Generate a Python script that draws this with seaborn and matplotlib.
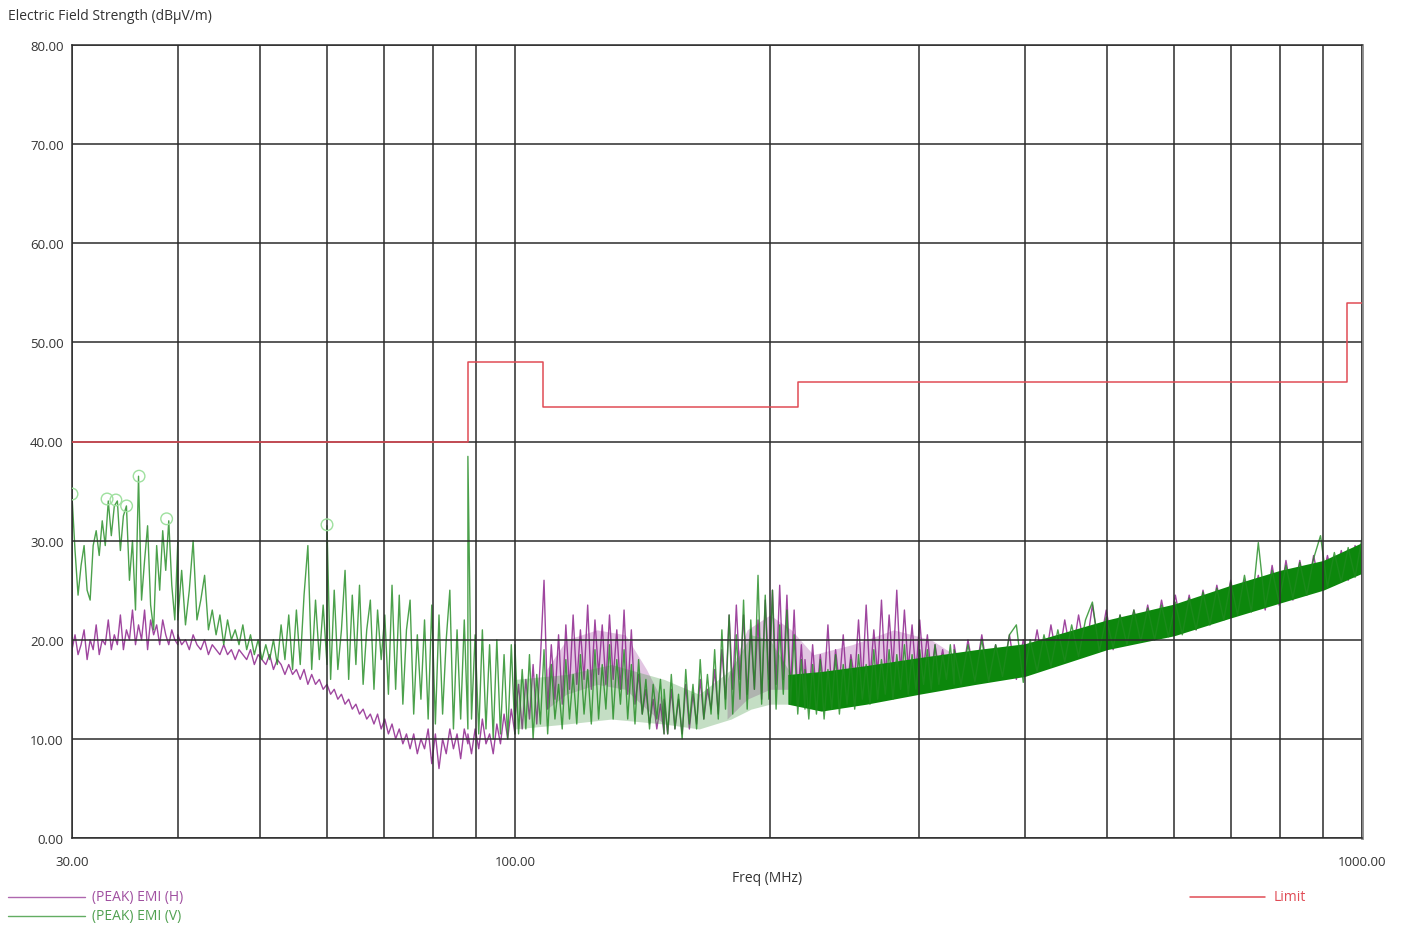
import numpy as np
import pandas as pd
import seaborn as sns
import matplotlib
matplotlib.use("Agg")
import matplotlib.pyplot as plt
from matplotlib.lines import Line2D
from matplotlib.ticker import FixedLocator, FixedFormatter, NullLocator

# ---------------- data ----------------
SEG_EDGES = [30, 40, 60, 88, 100, 150, 220, 330, 1000]  # MHz, segment bounds of readings

# Vertical polarisation (green) readings, dBuV/m
V_30_40 = [34.5, 29, 24.5, 27.5, 29.5, 25, 24, 29.5, 31, 28.5, 32, 29.5, 34, 30.5, 33.5, 34,
           29, 32.5, 33.5, 26, 30, 23, 36.5, 24, 28, 31.5, 23.5, 21, 29.5, 25, 31, 27, 32, 25.5, 22, 30]
V_40_60 = [22, 27, 21.5, 25, 30, 22, 24, 26.5, 21, 23, 20.5, 22.5, 19.5, 22, 20, 21, 19.5, 21.5, 19, 20.5,
           18.5, 20, 18, 19.5, 18, 20, 17.5, 21.5, 18, 22.5, 17, 23, 17.5, 24.5, 29.5, 17, 24, 18, 23.5, 17.5]
V_60_88 = [31.5, 16, 25, 17, 21, 27, 16, 24.5, 17.5, 25.5, 15.5, 21, 24, 15, 23, 18, 22.5, 14.5, 25.5, 15,
           24.5, 13.5, 21, 24, 12.5, 20.5, 14, 22, 12, 23.5, 11.5, 22.5, 12.5, 20, 25, 11, 21, 12, 22, 11]
V_88_100 = [38.5, 12, 20.5, 10.5, 21, 11, 19.5, 10, 20, 10.5, 18.5, 10, 19.5, 10.5]
V_100_150 = [19.5, 10.5, 17, 11, 18.5, 10, 16.5, 11.5, 19, 10.5, 17.5, 12, 15.5, 11, 18, 12, 16.5, 11.5,
             18.5, 12.5, 17, 11.5, 19, 12, 17.5, 13, 19.5, 12, 18, 13.5, 19, 12, 17.5, 11.5, 18, 12.5,
             16, 11, 15.5, 12, 16, 10.5]
V_150_220 = [15, 10.5, 16.5, 11, 14.5, 10, 17, 11.5, 15.5, 11, 18, 12, 16.5, 12.5, 19, 12, 21, 13, 22.5,
             12.5, 20.5, 14, 24, 13, 22, 15, 26.5, 13.5, 24.5, 14, 25, 13, 21.5, 14.5, 23, 13.5, 20.5,
             12.5, 18, 13]
V_220_330 = [17, 12, 17.5, 12.5, 18, 12, 17, 13, 18.5, 12.5, 17.5, 13.5, 18, 13, 18.5, 14, 17.5, 13.5,
             19, 14, 18, 14.5, 19, 14, 18.5, 15, 19.5, 14.5, 18.5, 15, 19, 15.5, 19, 15, 19.5, 15.5,
             18.5, 16, 19.5, 15.5]
V_330_1000 = [19, 15.5, 19.5, 15.8, 20, 15.8, 19.5, 16.3, 20.5, 21.5, 15.7, 20, 16.8, 20.5, 17.3, 21,
              17.8, 21.5, 18.3, 22, 23.8, 18.8, 22.3, 19.2, 22.5, 19.5, 23, 19.8, 23.2, 20, 23.5, 20.3,
              23.8, 20.5, 24.2, 21, 24.8, 21.5, 25.2, 22, 25.8, 22.5, 26.5, 22.8, 29.8, 23.3, 27, 23.8,
              27.5, 24.2, 27.8, 24.5, 28.2, 30.5, 25.3, 28.8, 25.8, 29.3, 26.3, 30.3]

# Horizontal polarisation (purple) readings, dBuV/m
H_30_40 = [19, 20.5, 18.5, 19.5, 21, 18, 20, 19, 21.5, 18.5, 20, 19.5, 22, 19, 20.5, 19.5, 22.5, 19,
           21, 20, 23, 19.5, 21.5, 20, 23, 19, 22, 20.5, 21.5, 19.5, 22, 20.5, 19.5, 21, 20, 19.5]
H_40_60 = [20.5, 19.5, 20, 19, 20.5, 19.5, 19, 20, 18.5, 19.5, 19, 18.5, 19.5, 18.5, 19, 18, 19, 18.5,
           18, 19, 17.5, 18.5, 18, 17.5, 18.5, 17, 18, 17.5, 16.5, 17.5, 16.5, 17, 16, 17, 15.5, 16.5,
           15.5, 16, 15, 15.5]
H_60_88 = [15.5, 14.5, 15, 14, 14.5, 13.5, 14, 13, 13.5, 12.5, 13, 12, 12.5, 11.5, 12.5, 11, 12, 10.5,
           11.5, 10, 11, 9.5, 10.5, 9, 10.5, 8.5, 10, 9, 11, 7.5, 10.5, 7, 10, 8.5, 11, 9, 10.5, 8, 11, 9.5]
H_88_100 = [10.5, 8.5, 11, 9, 12, 9.5, 10.5, 8.5, 11.5, 9.5, 12.5, 10, 13, 10.5]
H_100_150 = [12, 15.5, 11, 16, 12, 17.5, 11.5, 18, 26, 13, 19.5, 14, 20.5, 13.5, 21.5, 15, 22.5, 15.5,
             21, 16, 23.5, 15, 22, 16.5, 21.5, 15.5, 22.5, 16, 21, 15, 23, 14.5, 21, 13.5, 16.5, 12.5,
             15, 11.5, 14, 11, 13.5, 10.5]
H_150_220 = [14, 10.5, 15, 11, 14, 10.5, 15.5, 11, 14.5, 11.5, 16, 12, 15, 13, 17, 12.5, 19, 14, 22.5,
             15, 23.5, 16, 22.5, 14.5, 21, 15, 22, 14, 24, 16, 25, 15.5, 25.5, 16, 24.5, 15, 23, 14,
             19.5, 13.5]
H_220_330 = [18, 13.5, 19.5, 14, 18.5, 15, 21.5, 14.5, 19, 15.5, 20.5, 15, 18.5, 16, 22, 15.5, 23.5, 16,
             21, 16.5, 24, 16, 22.5, 17, 25, 16.5, 23, 17, 21.5, 16.5, 22, 17, 20.5, 16.5, 19.5, 17,
             19, 16.5, 18.5, 16]
H_330_1000 = [19.5, 15.5, 20, 16, 20.5, 16, 19.5, 16.5, 20.5, 16, 20, 17, 21, 17, 21.5, 17.5, 22, 18,
              22.5, 18.5, 23.5, 19, 23, 19, 22.5, 19.5, 23, 20, 23.5, 20, 24, 20.5, 24.5, 21, 24.5, 21,
              25, 21.5, 25.5, 22, 26, 22.5, 26, 23, 26.5, 23, 27.5, 23.5, 28, 24, 28, 24.5, 28.5, 25,
              28.5, 25.5, 29, 26, 29.5, 27]

# Dense green noise band (solid envelope) above ~210 MHz
BAND_F = [210, 230, 260, 300, 350, 400, 500, 600, 700, 800, 900, 1000]
BAND_HI = [16.5, 16.8, 17.4, 18.2, 19, 19.6, 22, 23.6, 25.5, 27, 28, 29.8]
BAND_LO = [13.5, 12.8, 13.5, 14.5, 15.5, 16.3, 19, 20.4, 22.2, 23.7, 25, 26.7]

# Hazy cores of dense noise (lighter)
GHAZE_F = [100, 115, 130, 150, 165, 180, 190, 200, 212]
GHAZE_HI = [16, 16.5, 17.5, 16, 14.5, 17, 20.5, 20, 16.5]
GHAZE_LO = [11, 11.5, 12, 11.5, 11, 12, 13, 13.5, 13.5]
PHAZE1_F = [109, 115, 125, 135, 143, 150]
PHAZE1_HI = [17, 20, 21, 20.5, 17, 13.5]
PHAZE1_LO = [13, 14.5, 15.5, 15, 13, 11.5]
PHAZE2_F = [178, 188, 200, 212, 225, 250, 280, 310, 330]
PHAZE2_HI = [16, 21, 22.5, 21, 18.5, 19.5, 21, 20, 18.5]
PHAZE2_LO = [12, 14, 15, 15, 15, 16, 16.5, 16.5, 16]

# Peak markers (V)
PEAK_F = [30.0, 33.0, 33.8, 34.8, 36.0, 38.8, 60.0]
PEAK_V = [34.7, 34.2, 34.1, 33.5, 36.5, 32.2, 31.6]

# Limit line
LIMIT_F = [30, 88, 108, 216, 960, 1000]
LIMIT_V = [40, 48, 43.5, 46, 54, 54]

X_TICKS = [30, 40, 50, 60, 70, 80, 90, 100, 200, 300, 400, 500, 600, 700, 800, 900, 1000]
X_LABELS = ["30.00", "", "", "", "", "", "", "100.00", "", "", "", "", "", "", "", "", "1000.00"]
Y_TICKS = [0, 10, 20, 30, 40, 50, 60, 70, 80]
Y_LABELS = ["0.00", "10.00", "20.00", "30.00", "40.00", "50.00", "60.00", "70.00", "80.00"]


def build(segs):
    fs, vs = [], []
    for k, vals in enumerate(segs):
        fs.append(np.geomspace(SEG_EDGES[k], SEG_EDGES[k + 1], len(vals)))
        vs.append(np.asarray(vals, float))
    return np.concatenate(fs), np.concatenate(vs)


fV, vV = build([V_30_40, V_40_60, V_60_88, V_88_100, V_100_150, V_150_220, V_220_330, V_330_1000])
fH, vH = build([H_30_40, H_40_60, H_60_88, H_88_100, H_100_150, H_150_220, H_220_330, H_330_1000])
dfV = pd.DataFrame({"f": fV, "v": vV})
dfH = pd.DataFrame({"f": fH, "v": vH})
dfL = pd.DataFrame({"f": LIMIT_F, "v": LIMIT_V})

# ---------------- styling ----------------
sns.set_style("white")
plt.rcParams["font.family"] = ["Open Sans", "DejaVu Sans"]

PURPLE = "#8e268e"
GREEN = "#1f8a1f"
RED = "#e04b55"
TXT = "#333333"

fig = plt.figure(figsize=(14.06, 9.29), dpi=100)
ax = fig.add_axes([72 / 1406, 1 - 839 / 929, (1362 - 72) / 1406, (839 - 46) / 929])

ax.fill_between(PHAZE1_F, PHAZE1_LO, PHAZE1_HI, color="#a040a0", alpha=0.3, lw=0, zorder=1.1)
ax.fill_between(PHAZE2_F, PHAZE2_LO, PHAZE2_HI, color="#a040a0", alpha=0.3, lw=0, zorder=1.1)
sns.lineplot(data=dfH, x="f", y="v", ax=ax, color=PURPLE, lw=1.0, alpha=0.85,
             estimator=None, sort=False, zorder=1.5)
ax.fill_between(GHAZE_F, GHAZE_LO, GHAZE_HI, color="#2e8b2e", alpha=0.28, lw=0, zorder=1.52)
ax.fill_between(BAND_F, BAND_LO, BAND_HI, color="#0c870c", lw=0, zorder=1.55)
sns.lineplot(data=dfV, x="f", y="v", ax=ax, color=GREEN, lw=1.0, alpha=0.8,
             estimator=None, sort=False, zorder=1.6)
sns.lineplot(data=dfL, x="f", y="v", ax=ax, color=RED, lw=1.1, drawstyle="steps-post",
             estimator=None, sort=False, zorder=3)
ax.scatter(PEAK_F, PEAK_V, s=70, facecolors="none", edgecolors="#9ee09e", linewidths=1.0, zorder=4)

ax.set_xscale("log")
ax.set_xlim(30, 1000)
ax.set_ylim(0, 80)
ax.xaxis.set_major_locator(FixedLocator(X_TICKS))
ax.xaxis.set_major_formatter(FixedFormatter(X_LABELS))
ax.xaxis.set_minor_locator(NullLocator())
ax.yaxis.set_major_locator(FixedLocator(Y_TICKS))
ax.yaxis.set_major_formatter(FixedFormatter(Y_LABELS))
ax.tick_params(axis="x", length=0, pad=12, labelsize=9.5, labelcolor=TXT)
ax.tick_params(axis="y", length=5, width=1, color="#555555", pad=1, labelsize=9.5, labelcolor=TXT)
ax.set_xlabel("")
ax.set_ylabel("")

ax.set_axisbelow(False)
ax.grid(True, which="major", color="#2b2b2b", lw=1.1)
for s in ax.spines.values():
    s.set_color("#2b2b2b")
    s.set_linewidth(1.1)
ax.spines["right"].set_color("#888888")
ax.spines["right"].set_linewidth(2)

fig.text(8 / 1406, 1 - 17 / 929, "Electric Field Strength (dBμV/m)", fontsize=10,
         color=TXT, ha="left", va="center")
fig.text(767 / 1406, 1 - 879 / 929, "Freq (MHz)", fontsize=10, color=TXT,
         ha="center", va="center")

# legend (bottom)
fig.add_artist(Line2D([8 / 1406, 85 / 1406], [1 - 898 / 929] * 2, color=PURPLE, lw=1, alpha=0.7))
fig.text(92 / 1406, 1 - 898 / 929, "(PEAK) EMI (H)", fontsize=10, color="#a050a0", ha="left", va="center")
fig.add_artist(Line2D([8 / 1406, 85 / 1406], [1 - 917 / 929] * 2, color=GREEN, lw=1, alpha=0.7))
fig.text(92 / 1406, 1 - 917 / 929, "(PEAK) EMI (V)", fontsize=10, color="#50a050", ha="left", va="center")
fig.add_artist(Line2D([1190 / 1406, 1265 / 1406], [1 - 898 / 929] * 2, color=RED, lw=1.1))
fig.text(1274 / 1406, 1 - 898 / 929, "Limit", fontsize=10, color=RED, ha="left", va="center")

fig.savefig("out.png", dpi=100, facecolor="white")
